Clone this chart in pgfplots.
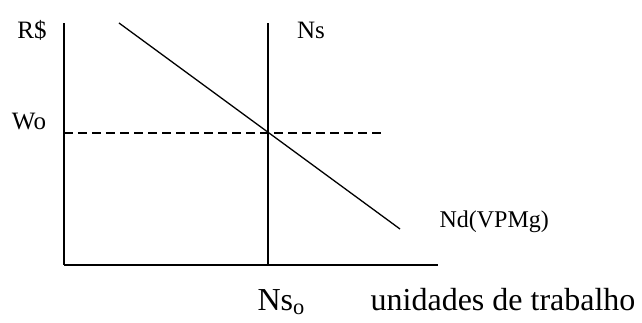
\documentclass[border=0pt]{standalone}
\usepackage{pgfplots}
\pgfplotsset{compat=1.18}
\usepackage{fontspec}
\setmainfont{Liberation Serif}
\begin{document}
\begin{tikzpicture}[x=1pt,y=1pt]
\path[use as bounding box] (-64,-58) rectangle (578,265);
\begin{axis}[
  scale only axis, width=374pt, height=242pt,
  xmin=0, xmax=374, ymin=0, ymax=242,
  axis x line=bottom, axis y line=left,
  axis line style={line width=1.3pt, -},
  xtick=\empty, ytick=\empty,
  clip=false,
]
\addplot[line width=1.3pt, black] coordinates {(204,0) (204,242)};
\addplot[line width=1.3pt, black] coordinates {(55,242) (336,36)};
\addplot[line width=1.3pt, black, dash pattern=on 9pt off 5pt] coordinates {(0,132) (318,132)};
\end{axis}
\node[font=\fontsize{25}{28}\selectfont] at (-32,235) {R\$};
\node[font=\fontsize{25}{28}\selectfont] at (247,235) {Ns};
\node[font=\fontsize{25}{28}\selectfont] at (-35,143) {Wo};
\node[font=\fontsize{24}{27}\selectfont, anchor=west] at (372,43) {Nd(VPMg)};
\node[font=\fontsize{32}{35}\selectfont, anchor=base west] at (190,-46) {Ns$_{\mathrm{o}}$};
\node[font=\fontsize{32}{35}\selectfont, anchor=base east] at (575,-46) {unidades de trabalho};
\end{tikzpicture}
\end{document}
